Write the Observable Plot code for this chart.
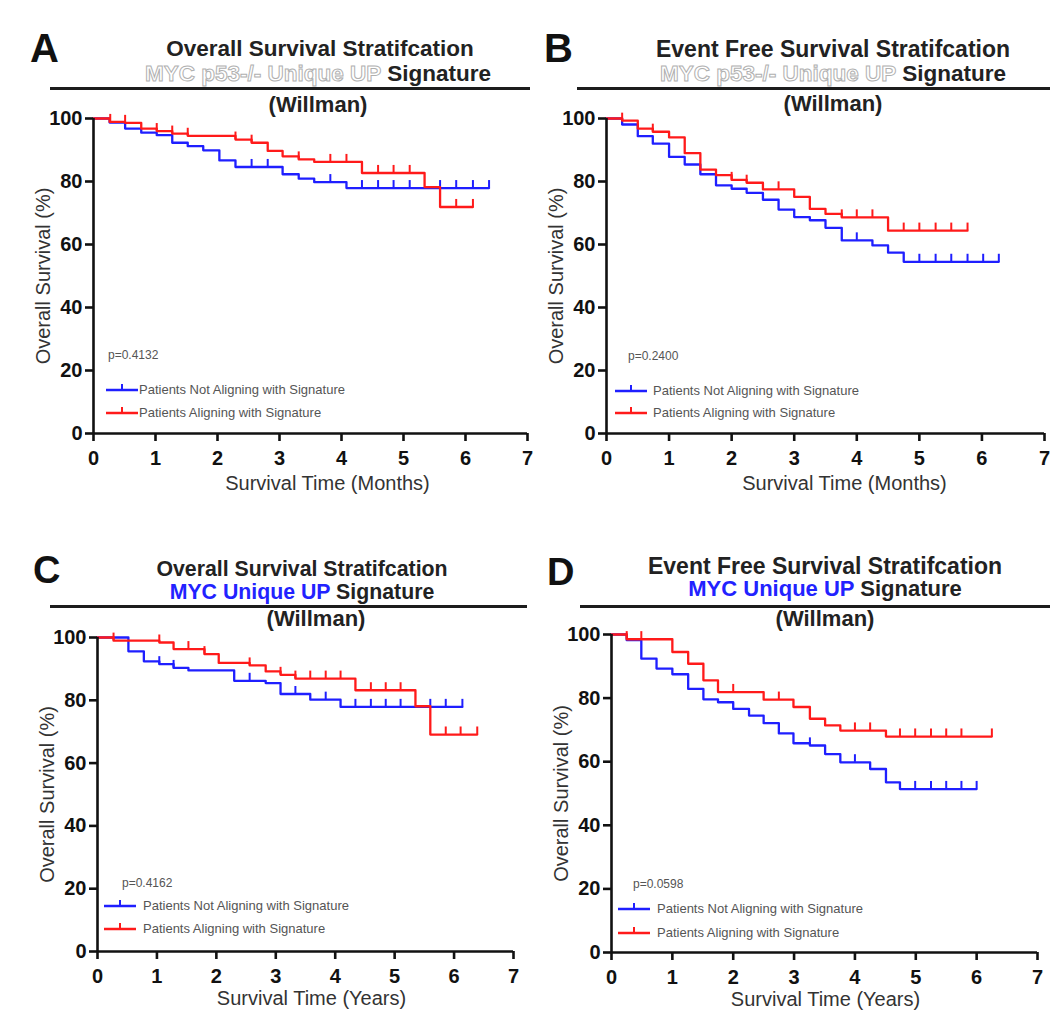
<!DOCTYPE html>
<html><head><meta charset="utf-8">
<script src="https://cdn.jsdelivr.net/npm/d3@7"></script>
<script src="https://cdn.jsdelivr.net/npm/@observablehq/plot@0.6"></script>
<style>
body{margin:0;background:#fff;font-family:"Liberation Sans",Arial,sans-serif;}
#fig{position:relative;width:1050px;height:1014px;overflow:hidden;background:#fff;}
.abs{position:absolute;white-space:nowrap;line-height:1;}
.letter{font-weight:bold;color:#111;}
.ttl{font-weight:bold;color:#222;transform:translateX(-50%);}
.hollow{color:#fff;-webkit-text-stroke:1px #b0b0b0;}
.blue{color:#2222ff;}
.rule{height:3px;background:#1c1c1c;}
.leg{color:#555;font-size:13px;}
#fig svg{position:absolute;color:#111;}
#fig svg g[aria-label$="tick label"]{font-weight:bold;}
#fig svg g[aria-label$="axis label"] text{font-weight:normal;fill:#333;}
</style></head><body><div id="fig"></div>
<script>
// ---------- data ----------
const xTicks = [0, 1, 2, 3, 4, 5, 6, 7];
const yTicks = [0, 20, 40, 60, 80, 100];
const legendLabels = ["Patients Not Aligning with Signature", "Patients Aligning with Signature"];

// Panel A: Overall survival, MYC p53-/- Unique UP (months)
const aBlueT = [0, 0.26, 0.51, 0.77, 1.02, 1.27, 1.52, 1.77, 2.03, 2.29, 3.05, 3.31, 3.56, 4.08, 6.38];
const aBlueS = [100, 98.7, 96.8, 95.5, 94.7, 92.3, 91.2, 89.9, 86.7, 84.6, 82.3, 80.9, 79.8, 77.9, 77.9];
const aBlueC = [2.55, 2.81, 3.82, 4.33, 4.59, 4.84, 5.10, 5.59, 5.85, 6.12, 6.38];
const aRedT = [0, 0.26, 0.51, 0.77, 1.02, 1.27, 1.52, 2.29, 2.55, 2.81, 3.05, 3.31, 3.56, 4.33, 5.34, 5.59, 6.12];
const aRedS = [100, 98.9, 98.6, 96.8, 96.0, 95.2, 94.5, 93.3, 92.3, 89.7, 88.0, 87.0, 86.2, 82.7, 78.2, 71.9, 71.9];
const aRedC = [0.27, 0.51, 1.02, 1.27, 1.52, 2.29, 2.55, 3.31, 3.82, 4.08, 4.59, 4.84, 5.10, 5.85, 6.12];

// Panel B: Event free survival, MYC p53-/- Unique UP (months)
const bBlueT = [0, 0.25, 0.5, 0.74, 1.0, 1.25, 1.5, 1.75, 2.0, 2.24, 2.5, 2.75, 3.0, 3.25, 3.5, 3.76, 4.25, 4.5, 4.75, 6.27];
const bBlueS = [100, 98.1, 94.4, 92.0, 87.8, 85.4, 82.3, 78.8, 77.7, 76.4, 74.2, 71.1, 68.7, 67.7, 65.3, 61.3, 59.7, 57.4, 54.5, 54.5];
const bBlueC = [4.0, 5.0, 5.26, 5.51, 5.77, 6.02, 6.27];
const bRedT = [0, 0.25, 0.5, 0.74, 1.0, 1.25, 1.5, 1.75, 2.0, 2.24, 2.5, 3.0, 3.25, 3.5, 3.76, 4.5, 5.77];
const bRedS = [100, 99.3, 96.8, 95.8, 94.0, 89.0, 83.8, 82.0, 80.5, 79.6, 77.5, 75.1, 71.3, 69.7, 68.6, 64.4, 64.4];
const bRedC = [0.25, 0.74, 2.0, 2.24, 2.75, 3.76, 4.0, 4.25, 4.75, 5.0, 5.26, 5.51, 5.77];

// Panel C: Overall survival, MYC Unique UP (years)
const cBlueT = [0, 0.52, 0.78, 1.04, 1.28, 1.53, 2.30, 2.83, 3.08, 3.58, 4.09, 6.14];
const cBlueS = [100, 95.6, 92.4, 91.5, 90.3, 89.5, 86.2, 85.5, 82.0, 80.2, 77.9, 77.9];
const cBlueC = [1.04, 1.28, 2.56, 3.33, 3.84, 4.34, 4.6, 4.85, 5.1, 5.6, 5.86, 6.14];
const cRedT = [0, 0.27, 1.04, 1.28, 1.80, 2.04, 2.56, 2.83, 3.08, 3.33, 4.34, 5.35, 5.6, 6.39];
const cRedS = [100, 99.0, 98.4, 96.3, 94.7, 91.9, 91.1, 89.2, 88.1, 86.9, 83.2, 78.1, 69.1, 69.1];
const cRedC = [0.27, 1.04, 1.53, 1.80, 2.56, 3.08, 3.33, 3.58, 3.84, 4.09, 4.6, 4.85, 5.1, 5.86, 6.11, 6.39];

// Panel D: Event free survival, MYC Unique UP (years)
const dBlueT = [0, 0.25, 0.49, 0.74, 1.0, 1.26, 1.51, 1.75, 2.0, 2.26, 2.5, 2.75, 2.99, 3.26, 3.51, 3.76, 4.25, 4.51, 4.74, 6.0];
const dBlueS = [100, 98.2, 92.4, 89.3, 87.5, 82.9, 79.6, 78.7, 76.6, 74.5, 72.1, 68.9, 65.8, 65.1, 62.4, 59.8, 57.7, 53.5, 51.4, 51.4];
const dBlueC = [3.26, 4.0, 4.99, 5.25, 5.5, 5.75, 6.0];
const dRedT = [0, 0.25, 1.0, 1.26, 1.51, 1.75, 2.5, 2.99, 3.26, 3.51, 3.76, 4.51, 6.25];
const dRedS = [100, 98.5, 94.5, 90.8, 85.6, 81.9, 79.5, 77.2, 73.5, 71.4, 69.8, 67.9, 67.9];
const dRedC = [0.25, 0.49, 2.0, 2.75, 4.0, 4.25, 4.74, 4.99, 5.25, 5.5, 5.75, 6.25];

const pValues = ["p=0.4132", "p=0.2400", "p=0.4162", "p=0.0598"];
const titles1 = ["Overall Survival Stratifcation", "Event Free Survival Stratifcation", "Overall Survival Stratifcation", "Event Free Survival Stratifcation"];
const sigNames = ["MYC p53-/- Unique UP", "MYC p53-/- Unique UP", "MYC Unique UP", "MYC Unique UP"];
const xLabels = ["Survival Time (Months)", "Survival Time (Months)", "Survival Time (Years)", "Survival Time (Years)"];
const yLabel = "Overall Survival (%)";
const letters = ["A", "B", "C", "D"];

const BLUE = "#1f1fff", RED = "#ff1a1a";

// ---------- layout ----------
const panels = [
  {blue:[aBlueT,aBlueS,aBlueC], red:[aRedT,aRedS,aRedC], sigCls:"hollow",
   letter:{x:30,base:62,fs:40}, t1:{cx:320,base:57,fs:22.5}, t2:{cx:318,base:82,fs:22.5}, w:{cx:318,base:113,fs:22},
   rule:{x1:50,x2:530,y:87}, svg:{left:0,top:108,width:540,height:400,mL:93,mR:13,mT:10,mB:75,xdx:17,xdy:50.5,yOff:58},
   p:{x:108,y:355}, leg:{sx:106,tx:139,y1:390,y2:413}},
  {blue:[bBlueT,bBlueS,bBlueC], red:[bRedT,bRedS,bRedC], sigCls:"hollow",
   letter:{x:544,base:62,fs:40}, t1:{cx:833,base:57,fs:23}, t2:{cx:833,base:82,fs:22.5}, w:{cx:833,base:112,fs:22},
   rule:{x1:577,x2:1050,y:87}, svg:{left:510,top:108,width:540,height:400,mL:96,mR:6,mT:10,mB:75,xdx:19,xdy:50.5,yOff:58},
   p:{x:628,y:356}, leg:{sx:615,tx:653,y1:391,y2:413}},
  {blue:[cBlueT,cBlueS,cBlueC], red:[cRedT,cRedS,cRedC], sigCls:"blue",
   letter:{x:33,base:583,fs:38}, t1:{cx:302,base:577,fs:21.3}, t2:{cx:302,base:600,fs:21.3}, w:{cx:316,base:627,fs:22},
   rule:{x1:50,x2:527,y:605}, svg:{left:0,top:627,width:530,height:387,mL:97,mR:17,mT:10,mB:63,xdx:6,xdy:47.5,yOff:58},
   p:{x:122,y:883}, leg:{sx:104,tx:143,y1:906,y2:929}},
  {blue:[dBlueT,dBlueS,dBlueC], red:[dRedT,dRedS,dRedC], sigCls:"blue",
   letter:{x:547,base:585,fs:38}, t1:{cx:825,base:574,fs:23}, t2:{cx:825,base:597,fs:22}, w:{cx:825,base:627,fs:22},
   rule:{x1:580,x2:1050,y:605}, svg:{left:510,top:624,width:540,height:390,mL:101,mR:13,mT:10,mB:62,xdx:1,xdy:47.5,yOff:58},
   p:{x:633,y:884}, leg:{sx:618,tx:657,y1:909,y2:933}}
];

const fig = document.getElementById("fig");
function el(cls, css, html) {
  const e = document.createElement("div");
  e.className = cls;
  Object.assign(e.style, css);
  if (html != null) e.innerHTML = html;
  fig.appendChild(e);
  return e;
}
const topOf = (base, fs) => (base - 0.847 * fs) + "px";
const intFormat = d3.format("d");

function survAt(T, S, t) {
  let s = S[0];
  for (let i = 0; i < T.length; i++) if (T[i] <= t + 1e-9) s = S[i];
  return s;
}
function seriesMarks([T, S, C], color) {
  const pts = T.map((t, i) => ({t, s: S[i]}));
  const cens = C.map(t => ({t, s: survAt(T, S, t)}));
  return [
    Plot.line(pts, {x: "t", y: "s", curve: "step-after", stroke: color, strokeWidth: 2.3}),
    Plot.ruleX(cens, {x: "t", y1: "s", y2: d => d.s + 2.4, stroke: color, strokeWidth: 2})
  ];
}
function swatch(color) {
  return `<svg width="32" height="12" style="position:static;display:block"><line x1="0" y1="9" x2="32" y2="9" stroke="${color}" stroke-width="2.5"/><line x1="16" y1="3" x2="16" y2="9" stroke="${color}" stroke-width="2"/></svg>`;
}

panels.forEach((P, i) => {
  el("abs letter", {left: P.letter.x + "px", top: topOf(P.letter.base, P.letter.fs), fontSize: P.letter.fs + "px"}, letters[i]);
  el("abs ttl", {left: P.t1.cx + "px", top: topOf(P.t1.base, P.t1.fs), fontSize: P.t1.fs + "px"}, titles1[i]);
  el("abs ttl", {left: P.t2.cx + "px", top: topOf(P.t2.base, P.t2.fs), fontSize: P.t2.fs + "px"},
     `<span class="${P.sigCls}">${sigNames[i]}</span> Signature`);
  el("abs rule", {left: P.rule.x1 + "px", top: P.rule.y + "px", width: (P.rule.x2 - P.rule.x1) + "px"});
  el("abs ttl", {left: P.w.cx + "px", top: topOf(P.w.base, P.w.fs), fontSize: P.w.fs + "px"}, "(Willman)");

  const g = P.svg;
  const chart = Plot.plot({
    width: g.width, height: g.height,
    marginLeft: g.mL, marginRight: g.mR, marginTop: g.mT, marginBottom: g.mB,
    x: {domain: [0, 7]},
    y: {domain: [0, 100]},
    style: {fontFamily: '"Liberation Sans", Arial, sans-serif', background: "transparent", overflow: "visible"},
    marks: [
      ...seriesMarks(P.blue, BLUE),
      ...seriesMarks(P.red, RED),
      Plot.ruleY([0], {strokeWidth: 2.6, stroke: "#111"}),
      Plot.ruleX([0], {strokeWidth: 2.6, stroke: "#111"}),
      Plot.axisX({ticks: xTicks, tickFormat: intFormat, tickSize: 8, tickPadding: 9, strokeWidth: 2.6, stroke: "#111",
                  fontSize: 20, fontWeight: "bold", label: null}),
      Plot.text([xLabels[i]], {text: d => d, frameAnchor: "bottom", dx: g.xdx, dy: g.xdy, lineAnchor: "middle",
                  fontSize: 20, fill: "#333"}),
      Plot.axisY({ticks: yTicks, tickFormat: intFormat, tickSize: 8, tickPadding: 3, strokeWidth: 2.6, stroke: "#111",
                  fontSize: 20, fontWeight: "bold",
                  label: yLabel, labelAnchor: "center", labelArrow: "none", labelOffset: g.yOff})
    ]
  });
  chart.style.left = g.left + "px";
  chart.style.top = g.top + "px";
  chart.style.maxWidth = "none";
  fig.appendChild(chart);

  el("abs leg", {left: P.p.x + "px", top: (P.p.y - 6) + "px", fontSize: "12px"}, pValues[i]);
  el("abs", {left: P.leg.sx + "px", top: (P.leg.y1 - 9) + "px"}, swatch(BLUE));
  el("abs", {left: P.leg.sx + "px", top: (P.leg.y2 - 9) + "px"}, swatch(RED));
  el("abs leg", {left: P.leg.tx + "px", top: (P.leg.y1 - 7) + "px"}, legendLabels[0]);
  el("abs leg", {left: P.leg.tx + "px", top: (P.leg.y2 - 7) + "px"}, legendLabels[1]);
});
</script></body></html>
